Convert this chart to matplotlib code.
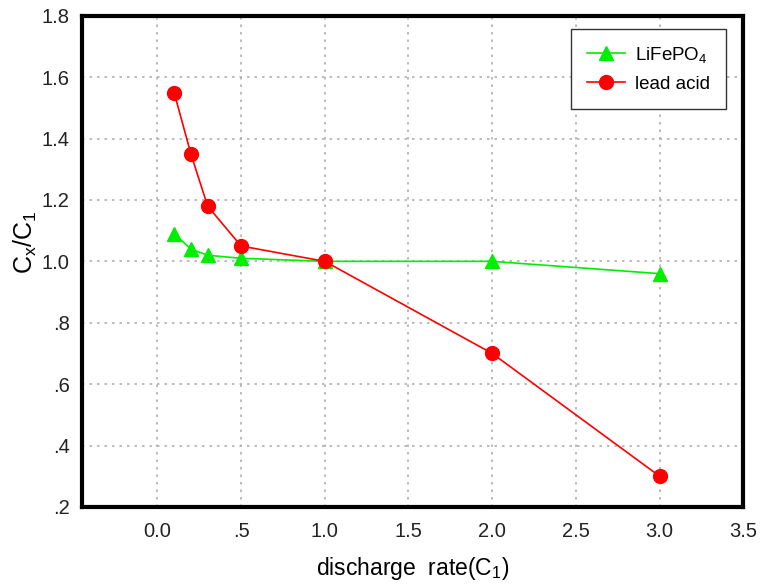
import matplotlib
matplotlib.use("Agg")
import matplotlib.pyplot as plt
from matplotlib.ticker import FuncFormatter

plt.rcParams["font.family"] = ["Liberation Sans", "DejaVu Sans"]
plt.rcParams["mathtext.default"] = "regular"

rate = [0.1, 0.2, 0.3, 0.5, 1.0, 2.0, 3.0]
lifepo4 = [1.09, 1.04, 1.02, 1.01, 1.00, 1.00, 0.96]
lead_acid = [1.55, 1.35, 1.18, 1.05, 1.00, 0.70, 0.30]
x_ticks = [0.0, 0.5, 1.0, 1.5, 2.0, 2.5, 3.0, 3.5]
y_ticks = [0.2, 0.4, 0.6, 0.8, 1.0, 1.2, 1.4, 1.6, 1.8]


def _fmt(v, _pos=None):
    s = f"{v:.1f}"
    # drop the leading zero except for 0.0 itself
    return s[1:] if s.startswith("0.") and s != "0.0" else s


fig = plt.figure(figsize=(7.6, 5.86), dpi=100)
ax = fig.add_axes([0.108, 0.135, 0.870, 0.838])

ax.plot(rate, lifepo4, color="#00ee00", lw=1.2, marker="^", ms=10, label="LiFePO$_4$")
ax.plot(rate, lead_acid, color="#ff0000", lw=1.2, marker="o", ms=10, label="lead acid")

ax.set_xlim(-0.45, 3.5)
ax.set_ylim(0.2, 1.8)
ax.set_xticks(x_ticks)
ax.set_yticks(y_ticks)
ax.xaxis.set_major_formatter(FuncFormatter(_fmt))
ax.yaxis.set_major_formatter(FuncFormatter(_fmt))
ax.tick_params(length=0, labelsize=14.5, colors="#222222")
ax.tick_params(axis="x", pad=11)
ax.tick_params(axis="y", pad=9)
ax.grid(True, color="#b0b0b0", ls=(0, (1.5, 3)), lw=1.2)
for spine in ax.spines.values():
    spine.set_linewidth(3)
    spine.set_color("black")

ax.set_xlabel("discharge  rate(C$_1$)", fontsize=16.5, labelpad=10)
ax.set_ylabel("C$_x$/C$_1$", fontsize=18, va="center")
ax.yaxis.set_label_coords(-0.085, 0.54)

leg = ax.legend(loc="upper right", bbox_to_anchor=(0.974, 0.974), borderaxespad=0,
                fontsize=13.5, fancybox=False, framealpha=1, edgecolor="#333333",
                handlelength=2.0, handletextpad=0.55, borderpad=0.85, labelspacing=0.6)
leg.get_frame().set_linewidth(1)

fig.savefig("out.png", dpi=100)
